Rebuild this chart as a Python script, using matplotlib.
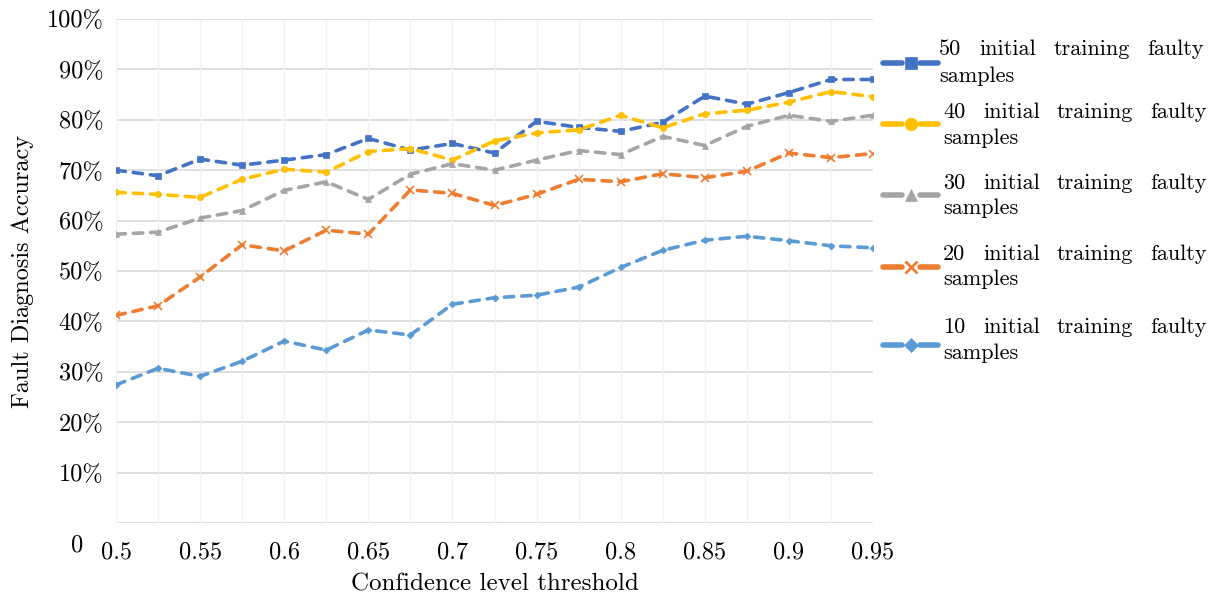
import numpy as np
import matplotlib
matplotlib.use("Agg")
import matplotlib.pyplot as plt
from matplotlib.lines import Line2D
from matplotlib.transforms import ScaledTranslation

# Confidence level thresholds (x) and diagnosis accuracy (%) per training-set size
thresholds = [0.5, 0.525, 0.55, 0.575, 0.6, 0.625, 0.65, 0.675, 0.7, 0.725,
              0.75, 0.775, 0.8, 0.825, 0.85, 0.875, 0.9, 0.925, 0.95]

acc_50 = [70.0, 68.9, 72.2, 71.0, 72.0, 73.1, 76.3, 74.0, 75.3, 73.4,
          79.7, 78.5, 77.7, 79.5, 84.7, 83.1, 85.4, 88.0, 88.0]
acc_40 = [65.6, 65.2, 64.6, 68.2, 70.2, 69.6, 73.7, 74.3, 72.0, 75.8,
          77.4, 78.0, 80.9, 78.4, 81.2, 81.9, 83.5, 85.6, 84.6]
acc_30 = [57.3, 57.7, 60.5, 62.0, 66.0, 67.7, 64.2, 69.2, 71.3, 70.0,
          72.0, 73.9, 73.1, 76.7, 74.9, 78.7, 80.9, 79.7, 80.9]
acc_20 = [41.2, 43.1, 48.8, 55.2, 54.0, 58.1, 57.3, 66.1, 65.4, 63.0,
          65.2, 68.2, 67.7, 69.3, 68.5, 69.8, 73.4, 72.5, 73.3]
acc_10 = [27.4, 30.7, 29.1, 32.1, 36.1, 34.3, 38.3, 37.3, 43.4, 44.7,
          45.2, 46.8, 50.7, 54.1, 56.1, 56.9, 56.0, 55.0, 54.6]

series_labels = ["50 initial training faulty samples",
                 "40 initial training faulty samples",
                 "30 initial training faulty samples",
                 "20 initial training faulty samples",
                 "10 initial training faulty samples"]
series_values = [acc_50, acc_40, acc_30, acc_20, acc_10]
colors = ["#4472C4", "#FFC000", "#A5A5A5", "#ED7D31", "#5B9BD5"]
markers = ["s", "o", "^", "x", "D"]
marker_sizes = [4.5, 4.5, 4.5, 6, 3.5]
legend_marker_sizes = [8, 9, 8, 8.5, 7]

x_ticks = [0.5, 0.55, 0.6, 0.65, 0.7, 0.75, 0.8, 0.85, 0.9, 0.95]
x_tick_labels = ["0.5", "0.55", "0.6", "0.65", "0.7", "0.75", "0.8", "0.85", "0.9", "0.95"]
y_ticks = [0, 10, 20, 30, 40, 50, 60, 70, 80, 90, 100]
y_tick_labels = ["0", "10%", "20%", "30%", "40%", "50%", "60%", "70%", "80%", "90%", "100%"]

plt.rcParams["font.family"] = ["cmr10", "DejaVu Serif"]
plt.rcParams["axes.unicode_minus"] = False

W, H = 1213, 600
fig = plt.figure(figsize=(W / 100, H / 100), dpi=100)
ax = fig.add_axes([116 / W, 1 - 523 / H, (873 - 116) / W, (523 - 19) / H])

# light grid: horizontal at every 10 %, vertical at every threshold
for v in y_ticks:
    ax.axhline(v, color="#D9D9D9", lw=1.2, zorder=0)
for t in thresholds:
    ax.axvline(t, color="#F2F2F2", lw=1.0, zorder=0)

for vals, c, m, ms in zip(series_values, colors, markers, marker_sizes):
    ax.plot(thresholds, vals, color=c, lw=2.6, linestyle=(0, (2.6, 2.2)),
            dash_capstyle="round", marker=m, markersize=ms,
            markerfacecolor=c, markeredgecolor=c,
            markeredgewidth=1.2 if m == "x" else 0.5, zorder=3)

ax.set_xlim(0.5, 0.95)
ax.set_ylim(0, 100)
for s in ax.spines.values():
    s.set_visible(False)

ax.set_xticks(x_ticks)
ax.set_xticklabels(x_tick_labels, fontsize=17.5)
ax.set_yticks(y_ticks)
ax.set_yticklabels(y_tick_labels, fontsize=17.5)
ax.tick_params(axis="both", length=0)
ax.tick_params(axis="x", pad=13)
ax.tick_params(axis="y", pad=9)

# the zero label sits lower and further left
zero_lbl = ax.get_yticklabels()[0]
zero_lbl.set_transform(zero_lbl.get_transform() +
                       ScaledTranslation(-0.20, -0.20, fig.dpi_scale_trans))

ax.set_xlabel("Confidence level threshold", fontsize=18, labelpad=7)
ax.set_ylabel("Fault Diagnosis Accuracy", fontsize=17.5, labelpad=9)

# custom legend on the right with justified two-line labels
handle_y = [63, 124, 195, 267, 345]
line1_y = [49, 112, 183, 254, 327]
line2_y = [76, 138, 208, 279, 353]
word_x = [[939, 979, 1054, 1147], [943, 983, 1057, 1150], [943, 983, 1057, 1150],
          [943, 983, 1057, 1150], [943, 983, 1057, 1150]]


def fx(px):
    return px / W


def fy(py):
    return 1 - py / H


for i, (lab, c, m) in enumerate(zip(series_labels, colors, markers)):
    hy = handle_y[i]
    x0, x1 = 883, 938
    xm = (x0 + x1) / 2
    for a, b in [(x0, xm - 9), (xm + 9, x1)]:
        fig.add_artist(Line2D([fx(a), fx(b)], [fy(hy), fy(hy)], color=c, lw=4.0,
                              solid_capstyle="round", transform=fig.transFigure))
    fig.add_artist(Line2D([fx(xm)], [fy(hy)], color=c, marker=m,
                          markersize=legend_marker_sizes[i], markerfacecolor=c,
                          markeredgecolor=c, markeredgewidth=2.0 if m == "x" else 0.5,
                          transform=fig.transFigure))
    words = lab.split()
    for wx, wd in zip(word_x[i], words[:4]):
        fig.text(fx(wx), fy(line1_y[i]), wd, fontsize=16, ha="left", va="center")
    fig.text(fx(word_x[i][0]), fy(line2_y[i]), words[4], fontsize=16,
             ha="left", va="center")

fig.savefig("out.png", dpi=100)
